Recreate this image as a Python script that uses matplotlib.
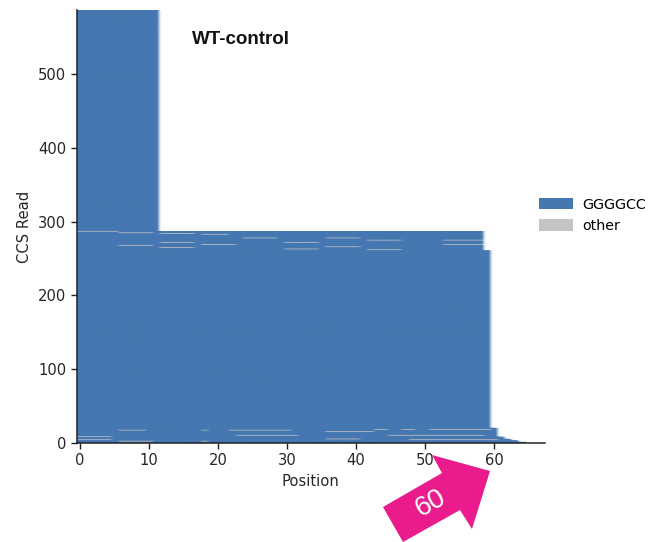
import numpy as np
import matplotlib
matplotlib.use("Agg")
import matplotlib.pyplot as plt
from matplotlib.colors import ListedColormap
from matplotlib.patches import Patch, Polygon

# ---------------- data ----------------
# reads stacked from bottom (row 0) upward: number of reads per block and read length (positions)
block_rows = [2, 2, 2, 3, 12, 241, 26, 300]
block_lengths = [65, 64, 63, 62, 61, 60, 59, 12]

# "other" (non-GGGGCC) stretches: read row, first position, last position
other_rows = [287, 285, 268, 284, 272, 265, 283, 269, 278, 272, 263, 278, 266,
              275, 262, 275, 269, 4, 8, 17, 2, 17, 2, 17, 10, 10, 15, 5, 18, 18, 18, 10, 4]
other_start = [0, 6, 6, 12, 12, 12, 18, 18, 24, 30, 30, 36, 36,
               42, 42, 53, 53, 0, 0, 6, 6, 18, 18, 22, 23, 29, 36, 36, 43, 47, 51, 45, 48]
other_end = [5, 10, 10, 16, 16, 16, 21, 22, 28, 34, 34, 40, 40,
             46, 46, 58, 58, 4, 4, 9, 10, 18, 18, 30, 28, 31, 42, 40, 44, 48, 59, 58, 60]

categories = ["GGGGCC", "other"]
x_ticks = [0, 10, 20, 30, 40, 50, 60]
y_ticks = [0, 100, 200, 300, 400, 500]

blue = "#4577B1"
gray = "#C4C4C4"

# ---------------- build matrix ----------------
n_rows = sum(block_rows)
n_cols = max(block_lengths)
M = np.full((n_rows, n_cols), np.nan)
r = 0
for cnt, ln in zip(block_rows, block_lengths):
    M[r:r + cnt, :ln] = 0
    r += cnt
for rr, s, e in zip(other_rows, other_start, other_end):
    M[rr, s:e + 1] = 1

# ---------------- plot ----------------
W, H = 649, 542
fig = plt.figure(figsize=(W / 100, H / 100), dpi=100)
ax = fig.add_axes([76.5 / W, 1 - 443 / H, (545 - 76.5) / W, (443 - 10) / H])

cmap = ListedColormap([blue, gray])
cmap.set_bad((1, 1, 1, 0))
ax.imshow(M, origin="lower", aspect="auto", cmap=cmap, vmin=0, vmax=1,
          extent=(-0.5, n_cols - 0.5, -0.5, n_rows - 0.5))

ax.set_xlim(-0.5, 67.4)
ax.set_ylim(-0.5, n_rows - 0.5)
ax.set_xticks(x_ticks)
ax.set_yticks(y_ticks)
ax.tick_params(labelsize=10.6, length=4, width=1, color="#222222", labelcolor="#262626")
for s in ["top", "right"]:
    ax.spines[s].set_visible(False)
for s in ["left", "bottom"]:
    ax.spines[s].set_color("#222222")
    ax.spines[s].set_linewidth(1.1)

ax.set_xlabel("Position", fontsize=10.6, color="#262626")
ax.set_ylabel("CCS Read", fontsize=10.6, color="#262626")

ax.text(23.3, 547, "WT-control", fontsize=13.5, fontweight="bold",
        family="Liberation Sans", ha="center", va="center", color="#111111")

handles = [Patch(facecolor=blue, edgecolor="none"), Patch(facecolor=gray, edgecolor="none")]
fig.legend(handles, categories, loc="upper left", frameon=False, fontsize=10.3,
           bbox_to_anchor=(533 / W, 1 - 192 / H), handlelength=2.4, handleheight=0.85,
           handletextpad=0.65, labelspacing=0.5, borderaxespad=0, borderpad=0.4)

# magenta annotation arrow pointing at the 60 tick
arrow_px = [(490, 471), (472, 529), (460, 510), (403, 542), (383, 507), (442, 473), (432, 455)]
arrow = Polygon([(x / W, 1 - y / H) for x, y in arrow_px], closed=True,
                transform=fig.transFigure, facecolor="#EA1B8C", edgecolor="none")
fig.add_artist(arrow)
fig.text(431 / W, 1 - 503 / H, "60", color="white", fontsize=20, family="Liberation Sans",
         rotation=29, ha="center", va="center", rotation_mode="anchor")

fig.savefig("out.png", dpi=100)
